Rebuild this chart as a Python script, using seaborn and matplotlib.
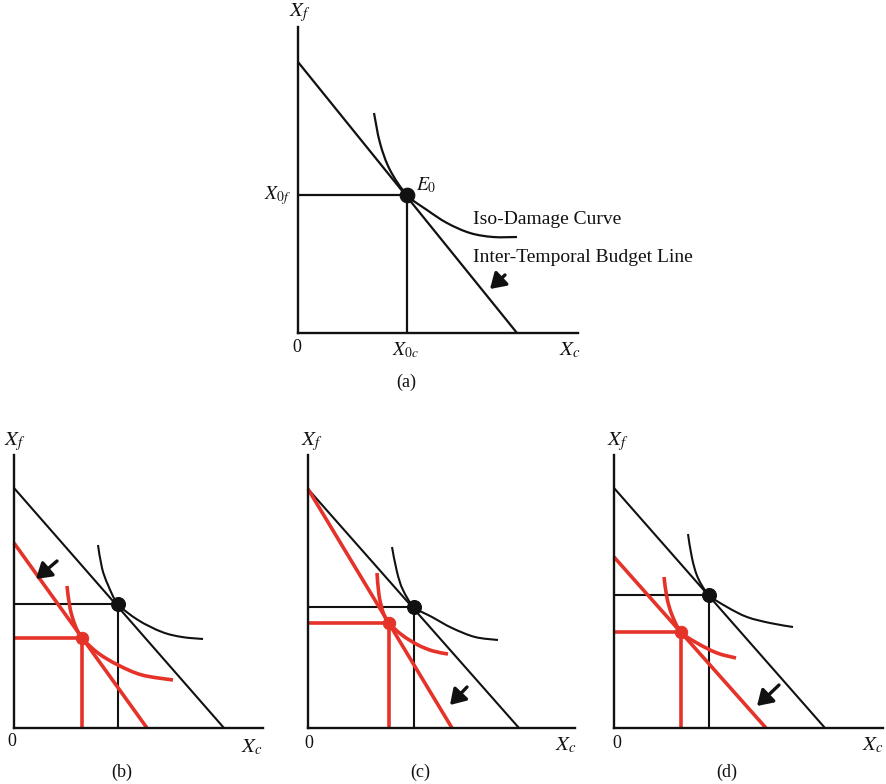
import matplotlib
matplotlib.use("Agg")
import matplotlib.pyplot as plt
from matplotlib.path import Path
from matplotlib.patches import PathPatch
import seaborn as sns
import pandas as pd

sns.set_theme(style="white")
plt.rcParams["font.family"] = ["Liberation Serif", "DejaVu Serif"]
plt.rcParams["mathtext.fontset"] = "stix"

BLACK = "#111111"
RED = "#e5332a"

# ---------------- data (panel coordinates, origin at axes corner) ----------------
# Panel (a)
a_budget_x = [0, 219]
a_budget_y = [271, 0]
a_E = (109, 138)
a_curve_x = [76, 82, 92, 109, 129, 149, 172, 195, 219]
a_curve_y = [220, 190, 163, 138, 123, 110, 100, 96, 96]
a_arrow = ((207, 58), (192, 44))

# Panel (b)
b_budget_x = [0, 210]
b_budget_y = [240, 0]
b_E = (104, 124)
b_curve_x = [84, 88, 94, 104, 124, 148, 168, 189]
b_curve_y = [183, 160, 143, 124, 108, 96, 91, 89]
b_red_x = [0, 133]
b_red_y = [185, 0]
b_rE = (68, 90)
b_rcurve_x = [53, 56, 61, 68, 84, 104, 128, 159]
b_rcurve_y = [142, 120, 103, 90, 75, 63, 53, 48]
b_arrow = ((43, 167), (22, 149))

# Panel (c)
c_budget_x = [0, 211]
c_budget_y = [239, 0]
c_E = (106, 121)
c_curve_x = [84, 89, 95, 106, 124, 144, 167, 190]
c_curve_y = [181, 156, 138, 121, 111, 100, 91, 88]
c_red_x = [0, 144]
c_red_y = [239, 0]
c_rE = (81, 105)
c_rcurve_x = [69, 71, 75, 81, 94, 110, 125, 140]
c_rcurve_y = [155, 133, 116, 105, 93, 83, 77, 74]
c_arrow = ((159, 41), (142, 23))

# Panel (d)
d_budget_x = [0, 211]
d_budget_y = [240, 0]
d_E = (95, 133)
d_curve_x = [74, 78, 84, 95, 113, 133, 156, 179]
d_curve_y = [194, 170, 150, 133, 121, 111, 105, 101]
d_red_x = [0, 152]
d_red_y = [171, 0]
d_rE = (67, 96)
d_rcurve_x = [50, 53, 58, 67, 83, 103, 122]
d_rcurve_y = [151, 130, 113, 96, 85, 75, 70]
d_arrow = ((165, 43), (143, 22))

# ---------------- figure ----------------
W, H = 887, 784
fig = plt.figure(figsize=(W / 100, H / 100), dpi=100)


def make_ax(ox, oy, w, h):
    ax = fig.add_axes([ox / W, (H - oy) / H, w / W, h / H])
    ax.set_xlim(0, w)
    ax.set_ylim(0, h)
    ax.patch.set_alpha(0)
    for s in ["top", "right"]:
        ax.spines[s].set_visible(False)
    for s in ["left", "bottom"]:
        ax.spines[s].set_color(BLACK)
        ax.spines[s].set_linewidth(1.7)
    ax.set_xticks([])
    ax.set_yticks([])
    return ax


def line(ax, xs, ys, color, lw):
    df = pd.DataFrame({"x": xs, "y": ys})
    sns.lineplot(data=df, x="x", y="y", ax=ax, color=color, lw=lw,
                 sort=False, estimator=None, solid_capstyle="butt", clip_on=False)
    ax.set_xlabel("")
    ax.set_ylabel("")


def curve(ax, xs, ys, color, lw):
    # smooth rendering through the read points (Catmull-Rom as cubic Bezier)
    pts = list(zip(xs, ys))
    verts = [pts[0]]
    codes = [Path.MOVETO]
    n = len(pts)
    for i in range(n - 1):
        p0 = pts[i - 1] if i > 0 else pts[i]
        p1 = pts[i]
        p2 = pts[i + 1]
        p3 = pts[i + 2] if i + 2 < n else pts[i + 1]
        c1 = (p1[0] + (p2[0] - p0[0]) / 6, p1[1] + (p2[1] - p0[1]) / 6)
        c2 = (p2[0] - (p3[0] - p1[0]) / 6, p2[1] - (p3[1] - p1[1]) / 6)
        verts += [c1, c2, p2]
        codes += [Path.CURVE4] * 3
    patch = PathPatch(Path(verts, codes), facecolor="none", edgecolor=color,
                      lw=lw, capstyle="butt", clip_on=False, zorder=3)
    ax.add_patch(patch)


def guides(ax, pt, color, lw):
    line(ax, [0, pt[0], pt[0]], [pt[1], pt[1], 0], color, lw)


def dot(ax, pt, color, size):
    sns.scatterplot(x=[pt[0]], y=[pt[1]], ax=ax, color=color, s=size,
                    edgecolor=color, zorder=6, clip_on=False)


def arrow(ax, a):
    (tx, ty), (hx, hy) = a
    ax.annotate("", xy=(hx, hy), xytext=(tx, ty),
                arrowprops=dict(arrowstyle="-|>,head_length=0.6,head_width=0.38",
                                lw=2.4, color=BLACK, mutation_scale=15,
                                shrinkA=0, shrinkB=0))


def txt(ax, x, y, s, size=14, ha="center", va="center"):
    ax.text(x, y, s, fontsize=size, ha=ha, va=va, color=BLACK, clip_on=False)


# Panel (a)
ax = make_ax(298, 333, 280, 306)
guides(ax, a_E, BLACK, 1.6)
line(ax, a_budget_x, a_budget_y, BLACK, 1.6)
curve(ax, a_curve_x, a_curve_y, BLACK, 1.6)
dot(ax, a_E, BLACK, 110)
arrow(ax, a_arrow)
txt(ax, 2, 320, r"$X_f$", 15)
txt(ax, -7, 137, r"$X_{0f}$", 14, ha="right")
txt(ax, -1, -14, "0", 13)
txt(ax, 108, -17, r"$X_{0c}$", 14)
txt(ax, 272, -17, r"$X_c$", 15)
txt(ax, 108, -49, "(a)", 13)
txt(ax, 118, 148, r"$E_0$", 14, ha="left")
txt(ax, 175, 113, "Iso-Damage Curve", 14, ha="left")
txt(ax, 175, 76, "Inter-Temporal Budget Line", 14, ha="left")

panels = [
    ((14, 728, 249, 273), b_budget_x, b_budget_y, b_E, b_curve_x, b_curve_y,
     b_red_x, b_red_y, b_rE, b_rcurve_x, b_rcurve_y, b_arrow,
     [(1, 286), (-2, -14), (238, -19), (108, -44)], "(b)"),
    ((308, 728, 267, 273), c_budget_x, c_budget_y, c_E, c_curve_x, c_curve_y,
     c_red_x, c_red_y, c_rE, c_rcurve_x, c_rcurve_y, c_arrow,
     [(4, 286), (1, -16), (258, -17), (112, -44)], "(c)"),
    ((614, 728, 269, 273), d_budget_x, d_budget_y, d_E, d_curve_x, d_curve_y,
     d_red_x, d_red_y, d_rE, d_rcurve_x, d_rcurve_y, d_arrow,
     [(4, 286), (3, -16), (259, -17), (113, -44)], "(d)"),
]

for (box, bx, by, E, cx, cy, rx, ry, rE, rcx, rcy, arr, labs, name) in panels:
    ax = make_ax(*box)
    guides(ax, E, BLACK, 1.5)
    line(ax, bx, by, BLACK, 1.5)
    curve(ax, cx, cy, BLACK, 1.5)
    guides(ax, rE, RED, 2.6)
    line(ax, rx, ry, RED, 2.6)
    curve(ax, rcx, rcy, RED, 2.6)
    dot(ax, E, BLACK, 100)
    dot(ax, rE, RED, 80)
    arrow(ax, arr)
    txt(ax, *labs[0], r"$X_f$", 15)
    txt(ax, *labs[1], "0", 13)
    txt(ax, *labs[2], r"$X_c$", 15)
    txt(ax, *labs[3], name, 13)

fig.savefig("out.png", dpi=100)
